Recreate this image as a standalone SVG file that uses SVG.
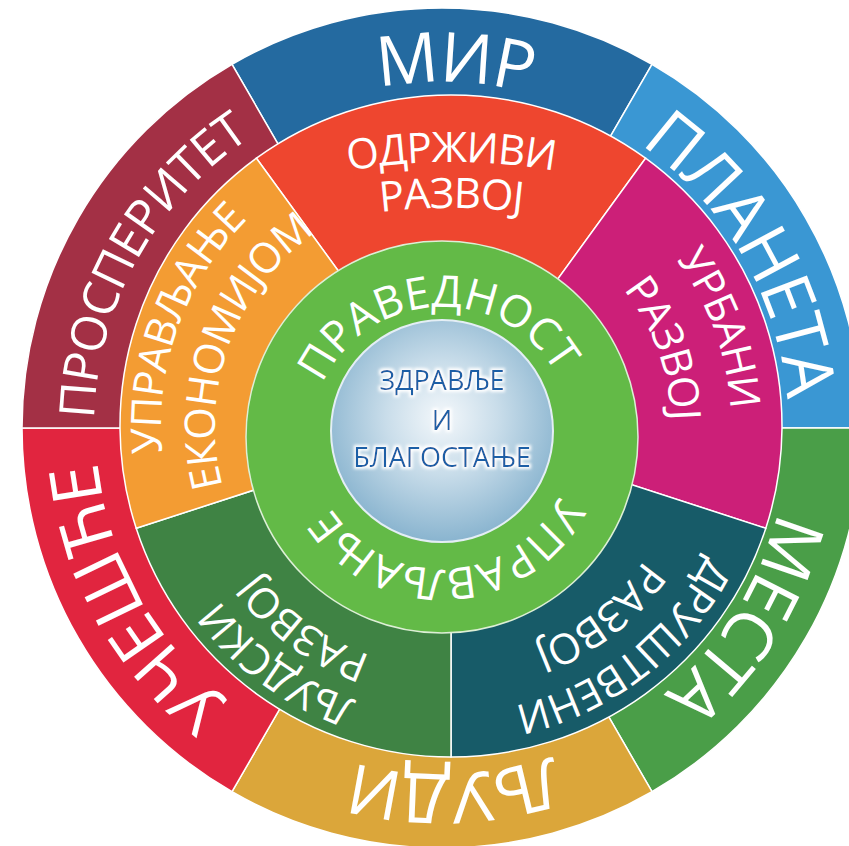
<svg xmlns="http://www.w3.org/2000/svg" width="849" height="846" viewBox="0 0 849 846">
  <defs>
    <radialGradient id="core" cx="50%" cy="44%" r="56%">
      <stop offset="0" stop-color="#F4F8FB"/>
      <stop offset="0.45" stop-color="#C9DDEA"/>
      <stop offset="1" stop-color="#89B4CF"/>
    </radialGradient>
    <filter id="glow" x="-20%" y="-40%" width="140%" height="180%">
      <feMorphology in="SourceAlpha" operator="dilate" radius="1.5" result="d"/>
      <feGaussianBlur in="d" stdDeviation="1.5" result="b"/>
      <feFlood flood-color="#ffffff" result="w"/>
      <feComposite in="w" in2="b" operator="in" result="halo"/>
      <feMerge><feMergeNode in="halo"/><feMergeNode in="SourceGraphic"/></feMerge>
    </filter>
    <!-- outer ring baselines -->
    <path id="pMir" d="M148.6,244.6 A346,346 0 0 1 747.5,265.6"/>
    <path id="pPlaneta" d="M442,82 A346,346 0 0 1 741.6,601"/>
    <path id="pMesta" d="M747.5,265.6 A346,346 0 0 1 429.9,773.8"/>
    <path id="pLjudi" d="M747.5,590.4 A346,346 0 0 1 148.6,611.4"/>
    <path id="pUcesce" d="M436,774 A346,346 0 0 1 145.4,249.8"/>
    <path id="pProsperitet" d="M143.7,607.2 A348,348 0 0 1 435.9,80.05"/>
    <!-- middle ring baselines -->
    <path id="pOdr1" d="M197.4,218.2 A600,600 0 0 1 704.6,218.2"/>
    <path id="pOdr2" d="M197.4,264.2 A600,600 0 0 1 704.6,264.2"/>
    <path id="pUrb1" d="M546.8,162.9 A280,280 0 0 1 693.5,566"/>
    <path id="pUrb2" d="M526.2,219.3 A220,220 0 0 1 641.5,536"/>
    <path id="pDru1" d="M737.8,436 A287,287 0 0 1 391.3,706.7"/>
    <path id="pDru2" d="M685.9,434.2 A235,235 0 0 1 402.1,655.9"/>
    <path id="pLju1" d="M521.2,707.4 A290,290 0 0 1 161.7,446.2"/>
    <path id="pLju2" d="M509.8,661.8 A243,243 0 0 1 208.6,443"/>
    <path id="pUpr1" d="M199.9,571 A290,290 0 0 1 351.8,153.5"/>
    <path id="pUpr2" d="M246.6,544 A236,236 0 0 1 370.3,204.2"/>
    <!-- green ring baselines -->
    <path id="pPrav" d="M312.1,420.9 A131,131 0 0 1 569.9,409.6"/>
    <path id="pUpravljanje" d="M572,454 A131,131 0 0 1 314.4,467.5"/>
  </defs>
  <style>
    .seg { stroke: #ffffff; stroke-width: 1.5; }
    .lbl { font-family: "Open Sans", "Noto Sans", sans-serif; fill: #ffffff; }
    .big { font-size: 69px; letter-spacing: -1.5px; }
    .mid { font-size: 42px; letter-spacing: -1px; }
    .ring { font-size: 44px; }
    .core { font-family: "Open Sans", "Noto Sans", sans-serif; font-size: 27px; fill: #1B5EA6; text-anchor: middle; }
  </style>

  <g id="outer-ring">
    <g id="mir"><path class="seg" fill="#246AA0" d="M442,428 L232,64.27 A420,420 0 0 1 652,64.27 Z"/>
      <text class="lbl big"><textPath href="#pMir" startOffset="50%" text-anchor="middle">МИР</textPath></text></g>
    <g id="planeta"><path class="seg" fill="#3A97D3" d="M442,428 L652,64.27 A420,420 0 0 1 862,428 Z"/>
      <text class="lbl big"><textPath href="#pPlaneta" startOffset="50%" text-anchor="middle">ПЛАНЕТА</textPath></text></g>
    <g id="mesta"><path class="seg" fill="#4A9E48" d="M442,428 L862,428 A420,420 0 0 1 652,791.73 Z"/>
      <text class="lbl big"><textPath href="#pMesta" startOffset="50%" text-anchor="middle">МЕСТА</textPath></text></g>
    <g id="ljudi"><path class="seg" fill="#DBA63A" d="M442,428 L652,791.73 A420,420 0 0 1 232,791.73 Z"/>
      <text class="lbl big"><textPath href="#pLjudi" startOffset="50%" text-anchor="middle">ЉУДИ</textPath></text></g>
    <g id="ucesce"><path class="seg" fill="#E1253F" d="M442,428 L232,791.73 A420,420 0 0 1 22,428 Z"/>
      <text class="lbl big"><textPath href="#pUcesce" startOffset="50%" text-anchor="middle">УЧЕШЋЕ</textPath></text></g>
    <g id="prosperitet"><path class="seg" fill="#A33045" d="M442,428 L22,428 A420,420 0 0 1 232,64.27 Z"/>
      <text class="lbl" font-size="49" letter-spacing="-1"><textPath href="#pProsperitet" startOffset="50%" text-anchor="middle">ПРОСПЕРИТЕТ</textPath></text></g>
  </g>

  <g id="middle-ring">
    <g id="odrzivi"><path class="seg" fill="#EE462F" d="M451,426 L256.44,158.22 A331,331 0 0 1 645.56,158.22 Z"/>
      <text class="lbl mid"><textPath href="#pOdr1" startOffset="50%" text-anchor="middle">ОДРЖИВИ</textPath></text>
      <text class="lbl mid"><textPath href="#pOdr2" startOffset="50%" text-anchor="middle">РАЗВОЈ</textPath></text></g>
    <g id="urbani"><path class="seg" fill="#CC1F78" d="M451,426 L645.56,158.22 A331,331 0 0 1 765.8,528.29 Z"/>
      <text class="lbl mid"><textPath href="#pUrb1" startOffset="50%" text-anchor="middle">УРБАНИ</textPath></text>
      <text class="lbl mid"><textPath href="#pUrb2" startOffset="50%" text-anchor="middle">РАЗВОЈ</textPath></text></g>
    <g id="drustveni"><path class="seg" fill="#175B68" d="M451,426 L765.8,528.29 A331,331 0 0 1 451,757 Z"/>
      <text class="lbl mid"><textPath href="#pDru1" startOffset="50%" text-anchor="middle">ДРУШТВЕНИ</textPath></text>
      <text class="lbl mid"><textPath href="#pDru2" startOffset="50%" text-anchor="middle">РАЗВОЈ</textPath></text></g>
    <g id="ljudski"><path class="seg" fill="#3F8344" d="M451,426 L451,757 A331,331 0 0 1 136.2,528.29 Z"/>
      <text class="lbl mid"><textPath href="#pLju1" startOffset="50%" text-anchor="middle">ЉУДСКИ</textPath></text>
      <text class="lbl mid"><textPath href="#pLju2" startOffset="50%" text-anchor="middle">РАЗВОЈ</textPath></text></g>
    <g id="upravljanje-ekonomijom"><path class="seg" fill="#F39C33" d="M451,426 L136.2,528.29 A331,331 0 0 1 256.44,158.22 Z"/>
      <text class="lbl mid"><textPath href="#pUpr1" startOffset="50%" text-anchor="middle">УПРАВЉАЊЕ</textPath></text>
      <text class="lbl mid"><textPath href="#pUpr2" startOffset="50%" text-anchor="middle">ЕКОНОМИЈОМ</textPath></text></g>
  </g>

  <g id="green-ring">
    <circle cx="442" cy="437" r="196" fill="#63BA47" stroke="#DDEFD6" stroke-width="1.5"/>
    <text class="lbl ring"><textPath href="#pPrav" startOffset="50%" text-anchor="middle">ПРАВЕДНОСТ</textPath></text>
    <text class="lbl ring"><textPath href="#pUpravljanje" startOffset="50%" text-anchor="middle">УПРАВЉАЊЕ</textPath></text>
  </g>

  <g id="core-node">
    <circle cx="442" cy="431" r="111" fill="url(#core)" stroke="#E4EEF5" stroke-width="2"/>
    <g filter="url(#glow)">
      <text class="core" x="442" y="390">ЗДРАВЉЕ</text>
      <text class="core" x="442" y="430">И</text>
      <text class="core" x="442" y="467">БЛАГОСТАЊЕ</text>
    </g>
  </g>
</svg>
